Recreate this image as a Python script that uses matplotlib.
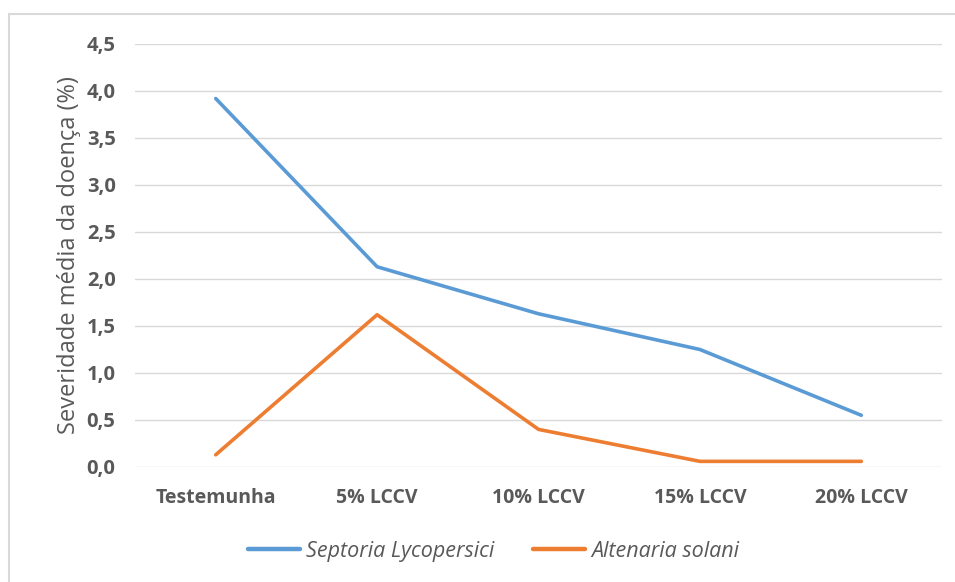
import matplotlib
matplotlib.use("Agg")
from matplotlib import pyplot as plt
from matplotlib.patches import Rectangle

# dados
categorias = ["Testemunha", "5% LCCV", "10% LCCV", "15% LCCV", "20% LCCV"]
septoria = [3.92, 2.13, 1.63, 1.25, 0.55]
altenaria = [0.13, 1.62, 0.40, 0.06, 0.06]
yticks = [0, 0.5, 1.0, 1.5, 2.0, 2.5, 3.0, 3.5, 4.0, 4.5]

plt.rcParams['font.family'] = ['Open Sans', 'DejaVu Sans']

fig = plt.figure(figsize=(9.55, 5.82), dpi=100)
ax = fig.add_axes([0.1414, 0.1976, 0.8450, 0.7268])

x = list(range(len(categorias)))
ax.plot(x, septoria, color="#5B9BD5", lw=2.6, solid_capstyle="round", solid_joinstyle="round",
        label="Septoria Lycopersici")
ax.plot(x, altenaria, color="#ED7D31", lw=2.6, solid_capstyle="round", solid_joinstyle="round",
        label="Altenaria solani")

ax.set_xlim(-0.5, 4.5)
ax.set_ylim(0, 4.5)
ax.set_yticks(yticks)
ax.set_yticklabels([("%.1f" % v).replace(".", ",") for v in yticks],
                   fontsize=14.5, fontweight="bold", color="#595959")
ax.set_xticks(x)
ax.set_xticklabels(categorias, fontsize=14, fontweight="bold", color="#595959")
ax.tick_params(axis="both", length=0)
ax.tick_params(axis="y", pad=14)
ax.tick_params(axis="x", pad=15)
ax.grid(axis="y", color="#D9D9D9", lw=1)
ax.set_axisbelow(True)
for s in ax.spines.values():
    s.set_visible(False)

ax.set_ylabel("Severidade média da doença (%)", fontsize=17, color="#595959", labelpad=4)

leg = fig.legend(loc="center", bbox_to_anchor=(0.517, 0.053), ncol=2, frameon=False,
                 handlelength=2.4, columnspacing=1.8, handletextpad=0.3,
                 prop={"style": "italic", "size": 15.5})
for t in leg.get_texts():
    t.set_color("#595959")
for h in leg.legend_handles:
    h.set_linewidth(3.2)

# moldura do grafico
fig.patches.append(Rectangle((9 / 955, -0.1), 1.2, 1 - 14 / 582 + 0.1,
                             transform=fig.transFigure, fill=False,
                             edgecolor="#D9D9D9", lw=1.5))

fig.savefig("out.png", dpi=100)
